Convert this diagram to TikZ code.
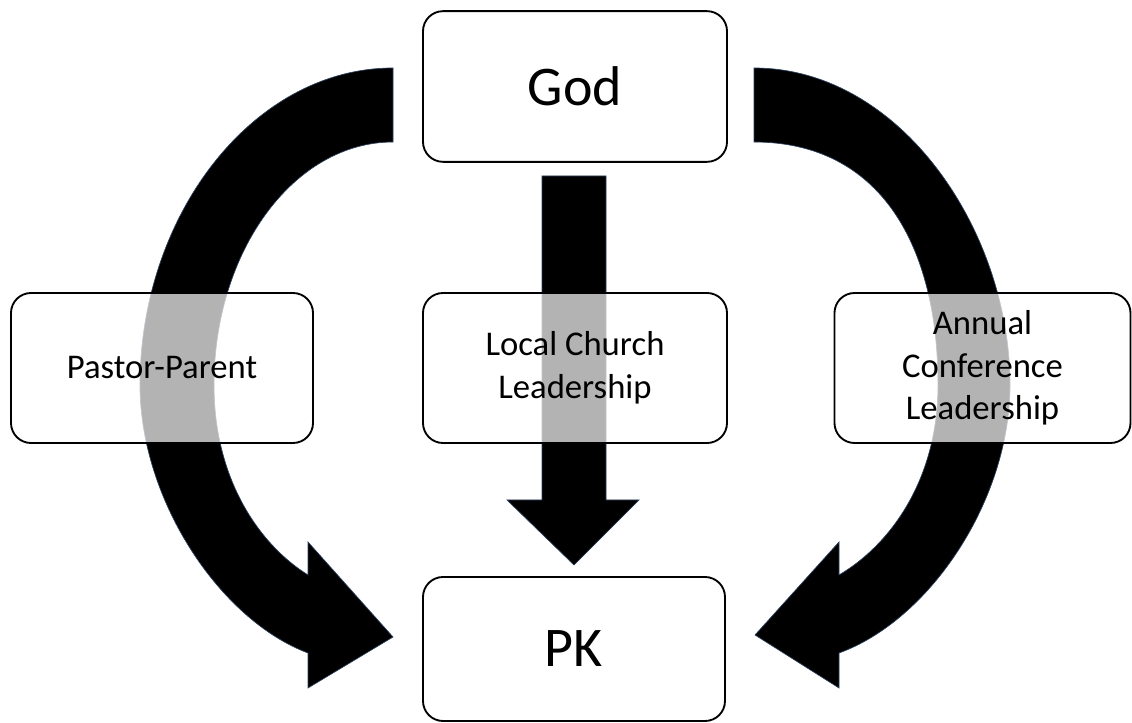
\documentclass[tikz,border=0pt]{standalone}
\usepackage{fontspec}
\setmainfont{Carlito}
\definecolor{arrowedge}{RGB}{45,65,95}
\tikzset{
  bigarrow/.style={fill=black, draw=arrowedge, line width=0.5pt, line join=miter},
  boxbase/.style={draw=black, line width=1.4pt, rounded corners=15pt, fill=white,
    fill opacity=0.7, draw opacity=1, text opacity=1, inner sep=0pt, align=center},
  bigbox/.style={boxbase, font=\fontsize{42}{50}\selectfont},
  smallbox/.style={boxbase, font=\fontsize{26}{32}\selectfont},
}
\begin{document}
\begin{tikzpicture}[x=0.75pt,y=-0.75pt]
\useasboundingbox (0,0) rectangle (1132,723);
\fill[white] (0,0) rectangle (1132,723);

% left curved arrow
\filldraw[bigarrow] (393,68) .. controls (253,68) and (140,215) .. (140,385)
  .. controls (140,500) and (220,620) .. (308,653)
  -- (308,688) -- (393,637) -- (308,542) -- (308,575)
  .. controls (260,545) and (214,480) .. (214,385)
  .. controls (214,251) and (294,142) .. (393,142) -- cycle;

% right curved arrow
\filldraw[bigarrow] (754,68) .. controls (900,68) and (1010,230) .. (1010,385)
  .. controls (1010,500) and (930,620) .. (839,653)
  -- (839,688) -- (755,635) -- (839,542) -- (839,575)
  .. controls (890,545) and (938,480) .. (938,385)
  .. controls (938,245) and (880,142) .. (754,142) -- cycle;

% middle straight arrow
\filldraw[bigarrow] (542,176) -- (606,176) -- (606,500) -- (639,500) -- (574,565) -- (507,500) -- (542,500) -- cycle;

% boxes
\node[bigbox, minimum width=228pt, minimum height=113pt] (god) at (575,86.5) {God};
\node[smallbox, minimum width=226.5pt, minimum height=112.5pt] (pastor) at (162,368) {Pastor-Parent};
\node[smallbox, minimum width=228pt, minimum height=112.5pt] (local) at (575,368) {Local Church\\Leadership};
\node[smallbox, minimum width=222pt, minimum height=112.5pt] (annual) at (982.5,368) {Annual\\Conference\\Leadership};
\node[bigbox, minimum width=226.5pt, minimum height=108pt] (pk) at (574,649) {PK};
\end{tikzpicture}
\end{document}
